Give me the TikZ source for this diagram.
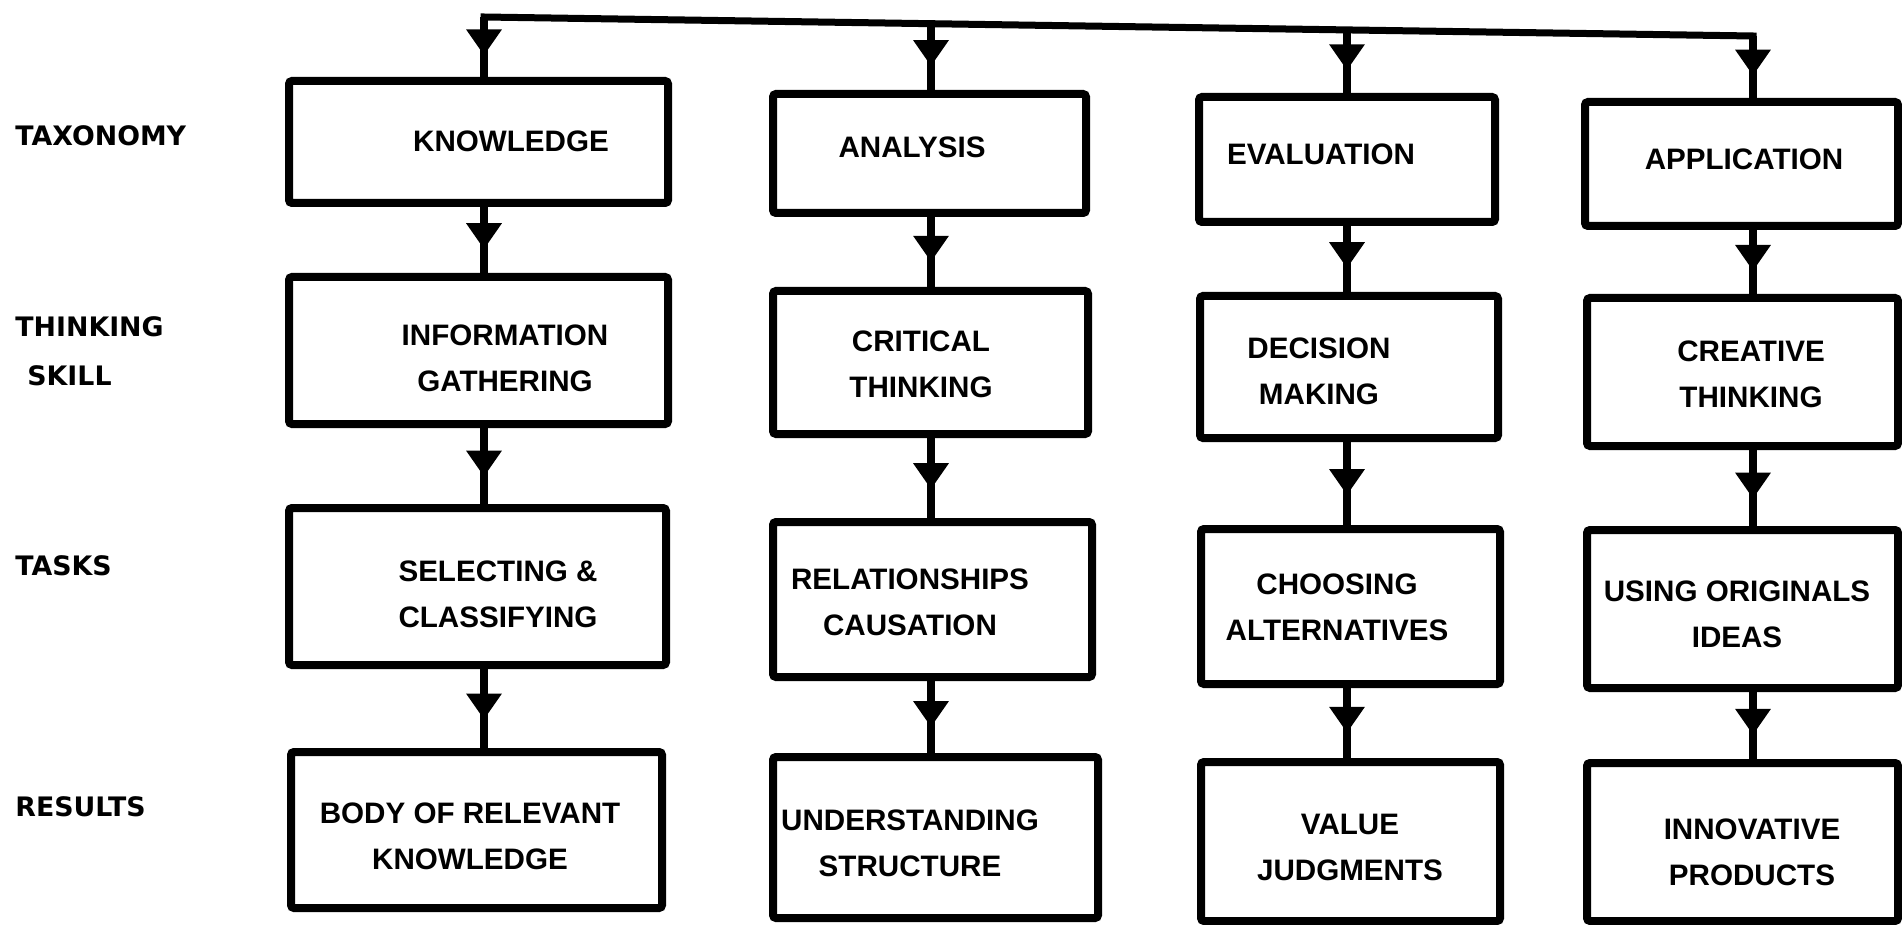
\documentclass[tikz,border=0pt]{standalone}
\usepackage{fontspec}
\setmainfont{Liberation Sans}
\newfontfamily\lblfont{DejaVu Sans}
\usetikzlibrary{arrows.meta,decorations.markings,calc}
\newcommand\mkbox[5]{\node[box, minimum width={(#4-#2)*0.5pt}, minimum height={(#5-#3)*0.5pt}] (#1) at ({(#2+#4)/2},{(#3+#5)/2}) {};}
\begin{document}
\begin{tikzpicture}[x=0.5pt,y=-0.5pt,
  box/.style={draw, line width=4pt, rounded corners=1.5pt, inner sep=0pt},
  txt/.style={font=\bfseries\fontsize{14.8}{23}\selectfont, align=center, inner sep=0pt},
  lbl/.style={font=\lblfont\bfseries\fontsize{13.4}{24.5}\selectfont, align=left, anchor=west, inner sep=0pt},
  conn/.style={line width=4pt, postaction={decorate}, decoration={markings, mark=at position 0.64 with {\arrow{Triangle[length=13pt,width=17pt]}}}},
  topline/.style={line width=3.5pt, line cap=rect, line join=round}]
\useasboundingbox (0,0) rectangle (1902,925);

% left labels
\node[lbl] (l1) at (15,136) {TAXONOMY};
\node[lbl] (l2) at (15,351) {THINKING\\\hspace*{6pt}SKILL};
\node[lbl] (l3) at (15,566) {TASKS};
\node[lbl] (l4) at (15,807) {RESULTS};

% boxes
\mkbox{b11}{289}{81}{668}{203}
\mkbox{b21}{289}{277}{668}{424}
\mkbox{b31}{289}{508}{666}{665}
\mkbox{b41}{291}{752}{662}{908}

\mkbox{b12}{773}{94}{1086}{213}
\mkbox{b22}{773}{291}{1088}{434}
\mkbox{b32}{773}{522}{1092}{677}
\mkbox{b42}{773}{757}{1098}{918}

\mkbox{b13}{1199}{97}{1495}{222}
\mkbox{b23}{1200}{296}{1498}{438}
\mkbox{b33}{1201}{529}{1500}{684}
\mkbox{b43}{1201}{762}{1500}{921}

\mkbox{b14}{1585}{102}{1898}{226}
\mkbox{b24}{1587}{298}{1898}{446}
\mkbox{b34}{1587}{530}{1898}{688}
\mkbox{b44}{1587}{763}{1898}{921}

% texts
\node[txt] (t11) at (511,141) {KNOWLEDGE};
\node[txt] (t21) at (505,358) {INFORMATION\\GATHERING};
\node[txt] (t31) at (498,594) {SELECTING \&\\CLASSIFYING};
\node[txt] (t41) at (470,836) {BODY OF RELEVANT\\KNOWLEDGE};

\node[txt] (t12) at (912,147) {ANALYSIS};
\node[txt] (t22) at (921,364) {CRITICAL\\THINKING};
\node[txt] (t32) at (910,602) {RELATIONSHIPS\\CAUSATION};
\node[txt] (t42) at (910,843) {UNDERSTANDING\\STRUCTURE};

\node[txt] (t13) at (1321,154) {EVALUATION};
\node[txt] (t23) at (1319,371) {DECISION\\MAKING};
\node[txt] (t33) at (1337,607) {CHOOSING\\ALTERNATIVES};
\node[txt] (t43) at (1350,847) {VALUE\\JUDGMENTS};

\node[txt] (t14) at (1744,159) {APPLICATION};
\node[txt] (t24) at (1751,374) {CREATIVE\\THINKING};
\node[txt] (t34) at (1737,614) {USING ORIGINALS\\IDEAS};
\node[txt] (t44) at (1752,852) {INNOVATIVE\\PRODUCTS};

% top line
\coordinate (j1) at (484,17);
\coordinate (j2) at (931,23.7);
\coordinate (j3) at (1347,29.9);
\coordinate (j4) at (1753,36);
\draw[topline] (j1) -- (j4);

% connectors
\draw[conn] (j1) -- (j1 |- b11.north);
\draw[conn] (b11.south -| j1) -- (b21.north -| j1);
\draw[conn] (b21.south -| j1) -- (b31.north -| j1);
\draw[conn] (b31.south -| j1) -- (b41.north -| j1);

\draw[conn] (j2) -- (j2 |- b12.north);
\draw[conn] (b12.south -| j2) -- (b22.north -| j2);
\draw[conn] (b22.south -| j2) -- (b32.north -| j2);
\draw[conn] (b32.south -| j2) -- (b42.north -| j2);

\draw[conn] (j3) -- (j3 |- b13.north);
\draw[conn] (b13.south -| j3) -- (b23.north -| j3);
\draw[conn] (b23.south -| j3) -- (b33.north -| j3);
\draw[conn] (b33.south -| j3) -- (b43.north -| j3);

\draw[conn] (j4) -- (j4 |- b14.north);
\draw[conn] (b14.south -| j4) -- (b24.north -| j4);
\draw[conn] (b24.south -| j4) -- (b34.north -| j4);
\draw[conn] (b34.south -| j4) -- (b44.north -| j4);
\end{tikzpicture}
\end{document}
